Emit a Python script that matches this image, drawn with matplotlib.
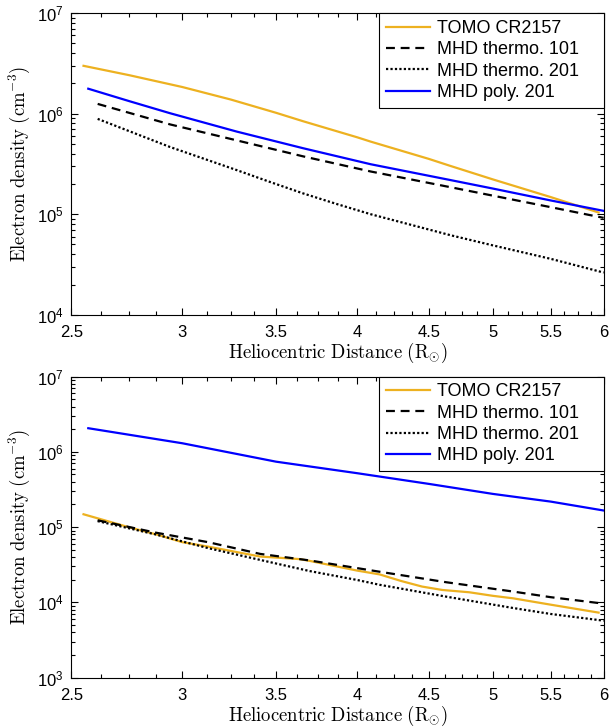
import matplotlib
matplotlib.use('Agg')
import matplotlib.pyplot as plt
from matplotlib.ticker import FixedLocator, NullFormatter, LogLocator

plt.rcParams['font.family'] = ['Liberation Sans', 'DejaVu Sans']
plt.rcParams['mathtext.fontset'] = 'custom'
plt.rcParams['mathtext.rm'] = 'Liberation Sans'
plt.rcParams['mathtext.it'] = 'Liberation Sans:italic'
plt.rcParams['mathtext.bf'] = 'Liberation Sans:bold'

# ---- data ----
labels = ['TOMO CR2157', 'MHD thermo. 101', 'MHD thermo. 201', 'MHD poly. 201']

# top panel
top_tomo_r = [2.55, 2.75, 3.0, 3.25, 3.5, 3.66, 4.0, 4.09, 4.5, 4.66, 5.0, 5.5, 5.95]
top_tomo_n = [2.99e6, 2.41e6, 1.84e6, 1.38e6, 1.02e6, 8.4e5, 5.82e5, 5.27e5, 3.55e5, 3.03e5, 2.22e5, 1.48e5, 1.04e5]
top_th101_r = [2.61, 2.94, 3.28, 3.66, 4.09, 4.66, 5.0, 5.5, 6.0]
top_th101_n = [1.25e6, 7.82e5, 5.43e5, 3.76e5, 2.66e5, 1.86e5, 1.53e5, 1.175e5, 9.2e4]
top_th201_r = [2.61, 2.94, 3.28, 3.47, 3.66, 3.87, 4.09, 4.66, 5.0, 5.5, 6.0]
top_th201_n = [8.87e5, 4.66e5, 2.75e5, 2.08e5, 1.61e5, 1.26e5, 1.0e5, 6.2e4, 4.9e4, 3.6e4, 2.63e4]
top_poly_r = [2.57, 2.75, 2.94, 3.28, 3.66, 4.09, 4.66, 5.0, 5.5, 6.0]
top_poly_n = [1.77e6, 1.33e6, 1.01e6, 6.64e5, 4.53e5, 3.14e5, 2.19e5, 1.80e5, 1.37e5, 1.08e5]

# bottom panel
bot_tomo_r = [2.55, 2.75, 2.87, 3.0, 3.13, 3.41, 3.64, 3.7, 4.0, 4.15, 4.3, 4.45, 4.6, 4.81, 5.0, 5.17, 5.5, 5.95]
bot_tomo_n = [1.48e5, 9.9e4, 8.05e4, 6.3e4, 5.5e4, 4.06e4, 3.75e4, 3.55e4, 2.64e4, 2.35e4, 1.92e4, 1.62e4, 1.46e4, 1.36e4, 1.22e4, 1.13e4, 9.3e3, 7.3e3]
bot_th101_r = [2.61, 2.87, 3.13, 3.41, 3.7, 4.15, 4.63, 5.17, 5.5, 6.0]
bot_th101_n = [1.23e5, 8.45e4, 6.3e4, 4.4e4, 3.6e4, 2.55e4, 1.85e4, 1.39e4, 1.17e4, 9.6e3]
bot_th201_r = [2.61, 2.87, 3.13, 3.41, 3.7, 4.0, 4.15, 4.63, 5.17, 5.5, 6.0]
bot_th201_n = [1.2e5, 8.0e4, 5.25e4, 3.66e4, 2.6e4, 1.98e4, 1.71e4, 1.19e4, 8.4e3, 7.0e3, 5.7e3]
bot_poly_r = [2.57, 3.0, 3.5, 4.0, 4.5, 5.0, 5.5, 6.0]
bot_poly_n = [2.06e6, 1.30e6, 7.4e5, 5.2e5, 3.75e5, 2.76e5, 2.18e5, 1.66e5]

x_ticks = [2.5, 3, 3.5, 4, 4.5, 5, 5.5, 6]
x_minor = [2.5 + 0.125 * i for i in range(29)]

orange = '#EDB120'
lw = 1.6

fig = plt.figure(figsize=(6.11, 7.27), dpi=100)
ax_top = fig.add_axes([0.117, 0.567, 0.871, 0.415])
ax_bot = fig.add_axes([0.117, 0.068, 0.871, 0.414])

panels = [
    (ax_top, (1e4, 1e7), [(top_tomo_r, top_tomo_n), (top_th101_r, top_th101_n),
                          (top_th201_r, top_th201_n), (top_poly_r, top_poly_n)]),
    (ax_bot, (1e3, 1e7), [(bot_tomo_r, bot_tomo_n), (bot_th101_r, bot_th101_n),
                          (bot_th201_r, bot_th201_n), (bot_poly_r, bot_poly_n)]),
]

styles = [
    dict(color=orange, ls='-'),
    dict(color='black', ls=(0, (4, 2.6))),
    dict(color='black', ls=(0, (1, 1.0))),
    dict(color='blue', ls='-'),
]

for ax, ylim, series in panels:
    for (r, n), st, lab in zip(series, styles, labels):
        ax.plot(r, n, lw=lw, label=lab, **st)
    ax.set_xscale('log')
    ax.set_yscale('log')
    ax.set_xlim(2.5, 6)
    ax.set_ylim(*ylim)
    ax.xaxis.set_major_locator(FixedLocator(x_ticks))
    ax.xaxis.set_minor_locator(FixedLocator(x_minor))
    ax.set_xticklabels([f'{t:g}' for t in x_ticks])
    ax.xaxis.set_minor_formatter(NullFormatter())
    ax.yaxis.set_major_locator(LogLocator(base=10, numticks=10))
    ax.yaxis.set_minor_locator(LogLocator(base=10, subs=range(2, 10), numticks=10))
    ax.yaxis.set_minor_formatter(NullFormatter())
    ax.tick_params(which='both', direction='in', top=True, right=True, labelsize=12, width=0.8)
    ax.tick_params(which='major', length=5)
    ax.tick_params(which='minor', length=3)
    ax.tick_params(axis='x', pad=7.5)
    ax.tick_params(axis='y', pad=5.5)
    for sp in ax.spines.values():
        sp.set_linewidth(0.8)
    ax.set_ylabel(r'$\mathrm{Electron\ density\ (cm^{-3})}$', fontsize=13.5,
                  math_fontfamily='cm', labelpad=4)
    ax.set_xlabel(r'$\mathrm{Heliocentric\ Distance\ (R_{\odot})}$', fontsize=13.5,
                  math_fontfamily='cm', labelpad=0.5)
    leg = ax.legend(loc='upper right', bbox_to_anchor=(0.578, 0, 0.422, 1), mode='expand',
                    borderaxespad=0, fancybox=False, framealpha=1,
                    edgecolor='black', fontsize=13, handlelength=2.45, handletextpad=0.35,
                    labelspacing=0.24, borderpad=0.38)
    leg.get_frame().set_linewidth(0.8)

fig.savefig('out.png', dpi=100)
